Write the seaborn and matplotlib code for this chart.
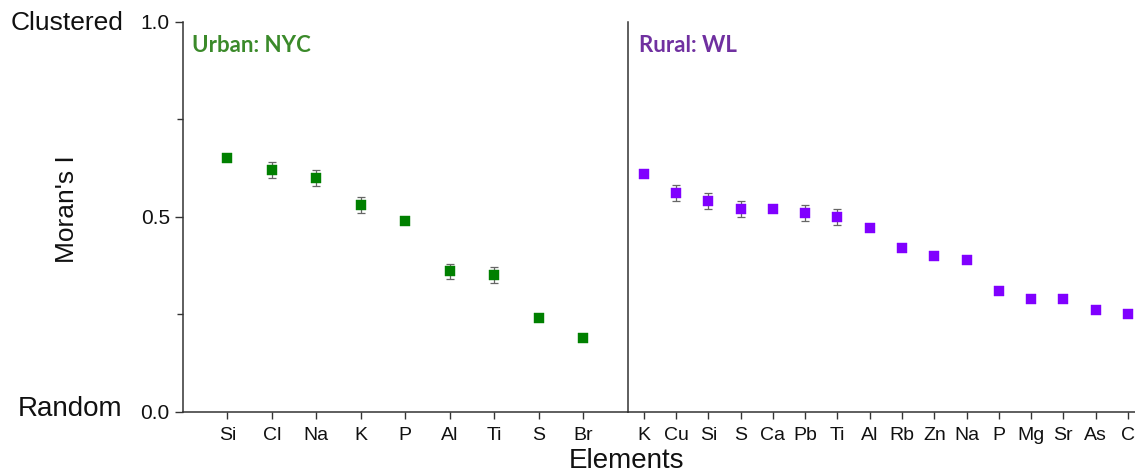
import matplotlib
matplotlib.use("Agg")
import matplotlib.pyplot as plt
import seaborn as sns
import pandas as pd
from matplotlib.ticker import MultipleLocator

urban_elements = ["Si", "Cl", "Na", "K", "P", "Al", "Ti", "S", "Br"]
urban_values = [0.65, 0.62, 0.60, 0.53, 0.49, 0.36, 0.35, 0.24, 0.19]
urban_errors = [0.0, 0.02, 0.02, 0.02, 0.0, 0.02, 0.02, 0.0, 0.0]

rural_elements = ["K", "Cu", "Si", "S", "Ca", "Pb", "Ti", "Al", "Rb", "Zn",
                  "Na", "P", "Mg", "Sr", "As", "C"]
rural_values = [0.61, 0.56, 0.54, 0.52, 0.52, 0.51, 0.50, 0.47, 0.42, 0.40,
                0.39, 0.31, 0.29, 0.29, 0.26, 0.25]
rural_errors = [0.0, 0.02, 0.02, 0.02, 0.0, 0.02, 0.02, 0.0, 0.0, 0.0,
                0.0, 0.0, 0.0, 0.0, 0.0, 0.0]

sns.set_style("ticks")
plt.rcParams["font.family"] = ["Liberation Sans", "DejaVu Sans"]

W, H = 1135, 475
fig = plt.figure(figsize=(W / 100, H / 100), dpi=100)

y0 = 411.7
yh = 390.0
x_left = 183.0
x_div = 627.7
ax1 = fig.add_axes([x_left / W, (H - y0) / H, (x_div - x_left) / W, yh / H])
ax2 = fig.add_axes([x_div / W, (H - y0) / H, (W - x_div) / W, yh / H], sharey=ax1)

spine_color = "#333333"
err_color = "#666666"

panels = [
    (ax1, urban_elements, urban_values, urban_errors, "#008000", (-1, 9)),
    (ax2, rural_elements, rural_values, rural_errors, "#8000FF", (-0.5, 15.22)),
]

for ax, elems, vals, errs, col, xl in panels:
    df = pd.DataFrame({"Element": elems, "Moran": vals, "Err": errs})
    ax.errorbar(df["Element"], df["Moran"], yerr=df["Err"], fmt="none",
                ecolor=err_color, elinewidth=0.9, capsize=3, capthick=0.9, zorder=2)
    sns.scatterplot(data=df, x="Element", y="Moran", ax=ax, marker="s",
                    color=col, s=48, linewidth=0.3, edgecolor=col, zorder=3, legend=False)
    ax.set_xlim(*xl)
    ax.set_ylim(0, 1.0)
    ax.set_xlabel("")
    ax.set_ylabel("")
    ax.spines["top"].set_visible(False)
    ax.spines["right"].set_visible(False)
    for sp in ("left", "bottom"):
        ax.spines[sp].set_color(spine_color)
        ax.spines[sp].set_linewidth(1.1)
    ax.tick_params(axis="x", direction="out", length=5, width=1.0, color=spine_color,
                   labelsize=14, pad=6, labelcolor="#111111")
    ax.patch.set_alpha(0)

ax1.yaxis.set_major_locator(MultipleLocator(0.5))
ax1.yaxis.set_minor_locator(MultipleLocator(0.25))
ax1.set_yticks([0.0, 0.5, 1.0])
ax1.set_yticklabels(["0.0", "0.5", "1.0"])
ax1.tick_params(axis="y", which="major", direction="out", length=6, width=1.0,
                color=spine_color, labelsize=15, labelcolor="#111111")
ax1.tick_params(axis="y", which="minor", direction="out", length=4, width=1.0,
                color=spine_color)
ax2.tick_params(axis="y", which="both", left=False, labelleft=False)

ax1.text(0.02, 0.94, "Urban: NYC", transform=ax1.transAxes, color="#3b8a2a",
         fontsize=16, fontweight="bold", family=["Lato", "DejaVu Sans"],
         ha="left", va="center")
ax2.text(0.023, 0.94, "Rural: WL", transform=ax2.transAxes, color="#7030a0",
         fontsize=16, fontweight="bold", family=["Lato", "DejaVu Sans"],
         ha="left", va="center")

fig.text(123 / W, 1 - 23 / H, "Clustered", fontsize=19, ha="right", va="center",
         color="#111111")
fig.text(122 / W, 1 - 409 / H, "Random", fontsize=20, ha="right", va="center",
         color="#111111")
fig.text(67 / W, 1 - 209 / H, "Moran's I", fontsize=19, rotation=90,
         ha="center", va="center", color="#111111")
fig.text(626.7 / W, 1 - 461 / H, "Elements", fontsize=20, ha="center", va="center",
         color="#111111")

fig.savefig("out.png", dpi=100)
